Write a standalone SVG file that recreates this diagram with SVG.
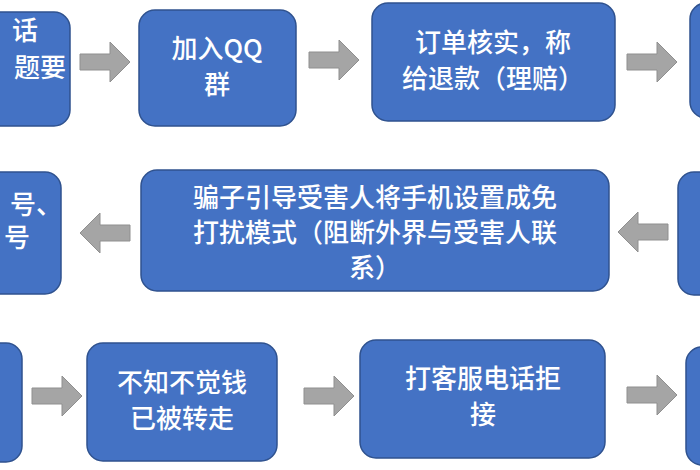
<svg xmlns="http://www.w3.org/2000/svg" width="700" height="470" viewBox="0 0 700 470">
<style>
.b{fill:#4472C4;stroke:#2F528F;stroke-width:1.5}
.t{fill:#fff;font-family:"Noto Sans CJK SC","Liberation Sans",sans-serif;font-size:26px;font-weight:500;text-anchor:middle}
.e{text-anchor:end}
.a{fill:#A5A5A5;stroke:#8F8F8F;stroke-width:1}
</style>
<defs>
<path id="ar" d="M0,-8 H30 V-20 L50,0 L30,20 V8 H0 Z"/>
</defs>
<rect width="700" height="470" fill="#fff"/>
<g id="n1"><rect class="b" x="-30" y="12" width="100" height="114" rx="16"/>
<text class="t e" x="38" y="40">话</text><text class="t e" x="66" y="77">题要</text><text class="t e" x="14" y="110">）</text></g>
<g id="n2"><rect class="b" x="139" y="10" width="157" height="116" rx="16"/>
<text class="t" x="217" y="58">加入QQ</text><text class="t" x="217" y="94">群</text></g>
<g id="n3"><rect class="b" x="372" y="3" width="243" height="118" rx="16"/>
<text class="t" x="493" y="52">订单核实，称</text><text class="t" x="493" y="88">给退款（理赔）</text></g>
<g id="n4"><rect class="b" x="690" y="3" width="40" height="115" rx="16"/></g>
<g id="n5"><rect class="b" x="-30" y="172" width="91" height="122" rx="16"/>
<text class="t e" x="62" y="214">号、</text><text class="t e" x="30" y="247">号</text></g>
<g id="n6"><rect class="b" x="141" y="170" width="468" height="121" rx="16"/>
<text class="t" x="375" y="207">骗子引导受害人将手机设置成免</text><text class="t" x="375" y="242">打扰模式（阻断外界与受害人联</text><text class="t" x="375" y="277">系）</text></g>
<g id="n7"><rect class="b" x="678" y="172" width="50" height="123" rx="16"/></g>
<g id="n8"><rect class="b" x="-30" y="343" width="52" height="119" rx="16"/></g>
<g id="n9"><rect class="b" x="87" y="343" width="190" height="118" rx="16"/>
<text class="t" x="182" y="392">不知不觉钱</text><text class="t" x="182" y="428">已被转走</text></g>
<g id="n10"><rect class="b" x="360" y="340" width="245" height="118" rx="16"/>
<text class="t" x="483" y="388">打客服电话拒</text><text class="t" x="483" y="424">接</text></g>
<g id="n11"><rect class="b" x="686" y="347" width="40" height="118" rx="16"/></g>
<g id="connectors">
<use href="#ar" class="a" transform="translate(80,62)"/>
<use href="#ar" class="a" transform="translate(309,60)"/>
<use href="#ar" class="a" transform="translate(627,62)"/>
<use href="#ar" class="a" transform="translate(130,233) scale(-1,1)"/>
<use href="#ar" class="a" transform="translate(668,232) scale(-1,1)"/>
<use href="#ar" class="a" transform="translate(32,396)"/>
<use href="#ar" class="a" transform="translate(304,396)"/>
<use href="#ar" class="a" transform="translate(627,395)"/>
</g>
</svg>
